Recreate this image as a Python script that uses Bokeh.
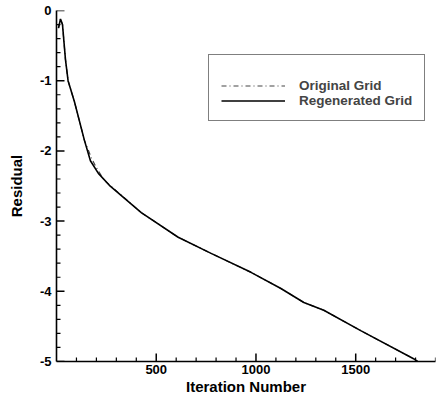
import math
from bokeh.plotting import figure
from bokeh.models import FixedTicker, Range1d, Legend, LegendItem
from bokeh.embed import file_html
from bokeh.resources import INLINE

# Data
iter_regen = [10, 20, 30, 45, 58, 90, 140, 170, 210, 265, 425, 610, 775, 975, 1125, 1240, 1340, 1525, 1790, 1810]
res_regen = [-0.25, -0.12, -0.2, -0.7, -1.0, -1.3, -1.85, -2.14, -2.32, -2.49, -2.88, -3.23, -3.46, -3.73, -3.96, -4.16, -4.27, -4.56, -4.96, -5.0]

iter_orig = [10, 20, 30, 45, 58, 90, 140, 175, 200, 240, 280, 425, 610, 775, 975, 1125, 1240, 1340, 1525, 1790, 1810]
res_orig = [-0.25, -0.12, -0.2, -0.7, -1.0, -1.3, -1.85, -2.1, -2.24, -2.42, -2.52, -2.88, -3.23, -3.46, -3.73, -3.96, -4.16, -4.27, -4.56, -4.96, -5.0]

x_major = [500, 1000, 1500]
x_minor = [v for v in range(100, 2000, 100) if v not in x_major]
y_major = [0, -1, -2, -3, -4, -5]
y_labels = ["0", "-1", "-2", "-3", "-4", "-5"]
y_minor = [round(-0.2 * k, 1) for k in range(1, 25) if k % 5 != 0]

X0, X1 = 0, 1900
Y0, Y1 = -5, 0

FONT = "Liberation Sans"

p = figure(width=440, height=397, output_backend="svg", toolbar_location=None,
           x_range=Range1d(X0, X1), y_range=Range1d(Y0, Y1),
           min_border_left=56, min_border_top=10, min_border_right=5, min_border_bottom=0)
p.outline_line_color = None
p.xgrid.visible = False
p.ygrid.visible = False
p.background_fill_color = "white"
p.border_fill_color = "white"

r_orig = p.line(iter_orig, res_orig, line_color="#444444", line_width=1.2, line_dash="5 3 1 3")
r_regen = p.line(iter_regen, res_regen, line_color="black", line_width=1.6)

# inward ticks drawn as screen-length rays from the axes
p.ray(x=x_major, y=[Y0] * len(x_major), length=8, length_units="screen",
      angle=math.pi / 2, line_color="black", line_width=1.5)
p.ray(x=x_minor, y=[Y0] * len(x_minor), length=4, length_units="screen",
      angle=math.pi / 2, line_color="black", line_width=1.2)
p.ray(x=[X0] * len(y_major), y=y_major, length=8, length_units="screen",
      angle=0, line_color="black", line_width=1.5)
p.ray(x=[X0] * len(y_minor), y=y_minor, length=4, length_units="screen",
      angle=0, line_color="black", line_width=1.2)

for ax in (p.xaxis[0], p.yaxis[0]):
    ax.axis_line_width = 1.6
    ax.axis_line_color = "black"
    ax.major_tick_in = 0
    ax.major_tick_out = 0
    ax.minor_tick_in = 0
    ax.minor_tick_out = 0
    ax.major_label_text_font = FONT
    ax.major_label_text_font_style = "bold"
    ax.major_label_text_font_size = "13px"
    ax.major_label_text_color = "black"
    ax.axis_label_text_font = FONT
    ax.axis_label_text_font_style = "bold"
    ax.axis_label_text_font_size = "15px"
    ax.axis_label_text_color = "black"

p.xaxis.ticker = FixedTicker(ticks=x_major, minor_ticks=x_minor)
p.yaxis.ticker = FixedTicker(ticks=y_major, minor_ticks=y_minor)
p.yaxis.major_label_overrides = {v: s for v, s in zip(y_major, y_labels)}
p.xaxis.axis_label = "Iteration Number"
p.yaxis.axis_label = "Residual"
p.xaxis.major_label_standoff = 3
p.xaxis.axis_label_standoff = 1
p.yaxis.major_label_standoff = 5
p.yaxis.axis_label_standoff = 12

legend = Legend(items=[LegendItem(label="Original Grid", renderers=[r_orig]),
                       LegendItem(label="Regenerated Grid", renderers=[r_regen])],
                location=(152, 240))
legend.title = " "
legend.title_text_font_size = "9px"
legend.title_standoff = 1
legend.padding = 12
legend.spacing = 0
legend.margin = 0
legend.glyph_width = 64
legend.glyph_height = 15
legend.label_height = 15
legend.label_standoff = 14
legend.label_text_font = FONT
legend.label_text_font_style = "bold"
legend.label_text_font_size = "13.5px"
legend.border_line_color = "black"
legend.border_line_width = 1
legend.background_fill_alpha = 1.0
p.add_layout(legend)

open("out.html", "w").write(file_html(p, INLINE))
